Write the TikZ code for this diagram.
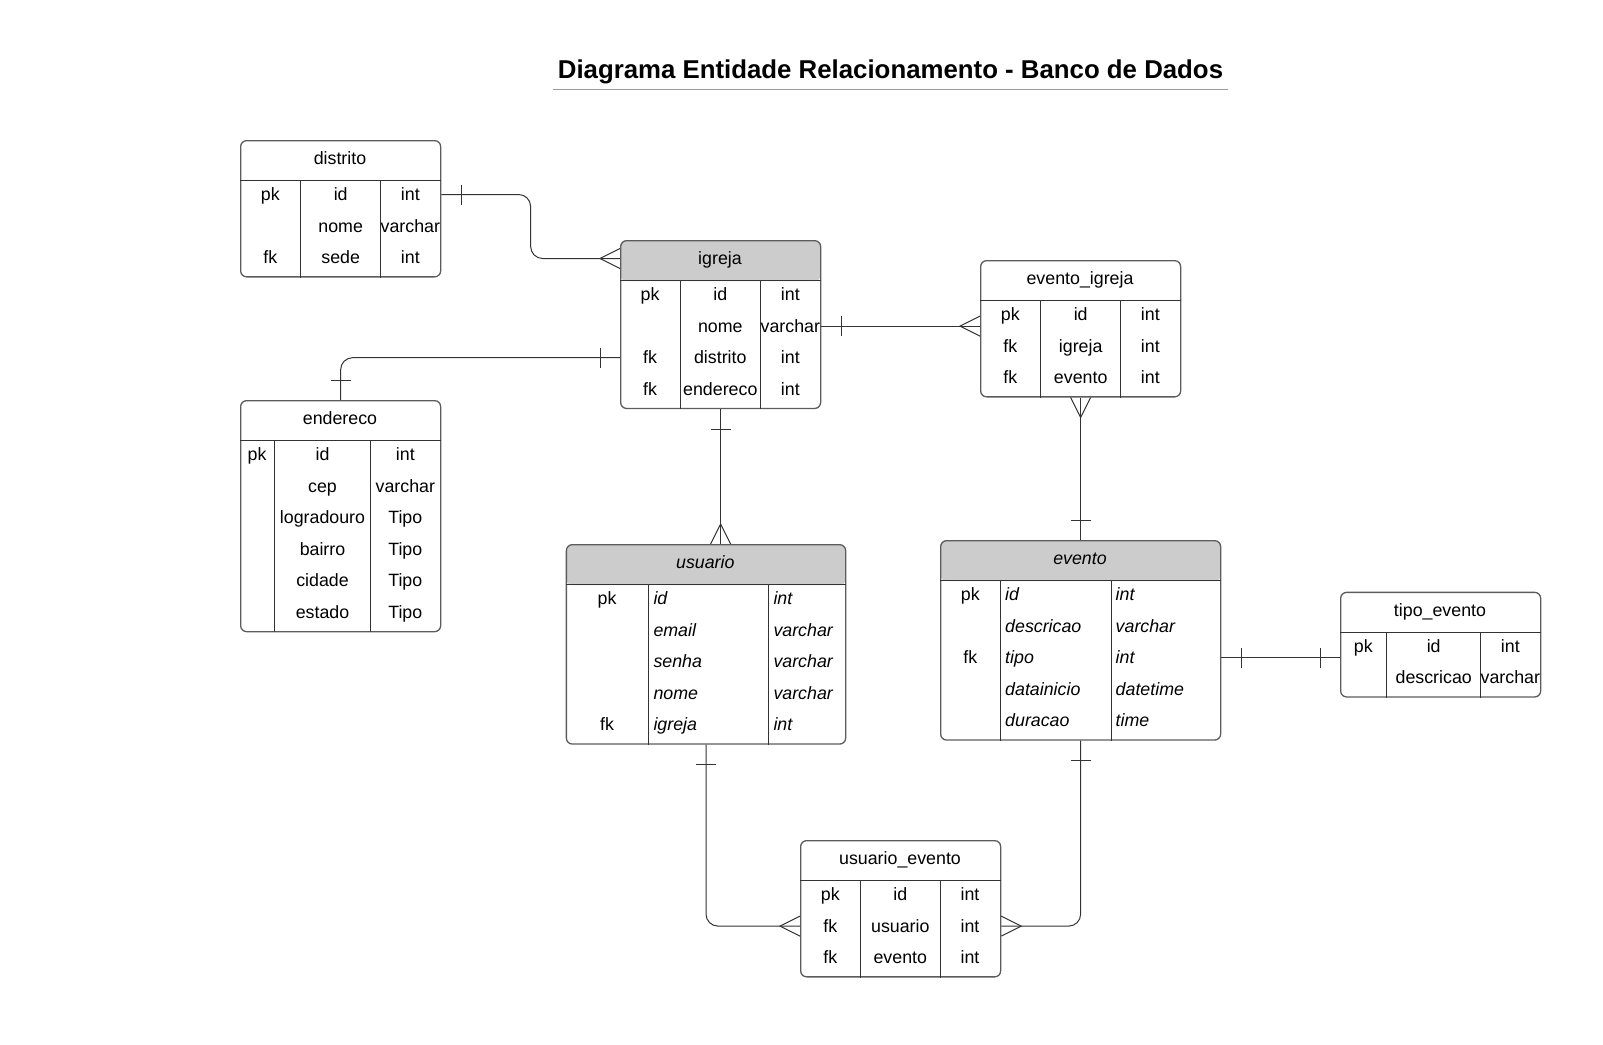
\documentclass[tikz,border=0pt]{standalone}
\usepackage{fontspec}
\setmainfont{Liberation Sans}
\usepackage{tikz}
\usetikzlibrary{positioning,calc,decorations.markings}

\definecolor{boxline}{HTML}{5C5C5C}
\definecolor{linkline}{HTML}{333333}
\definecolor{headfill}{HTML}{CCCCCC}
\definecolor{rulegray}{HTML}{9A9AA6}

\begin{document}
\begin{tikzpicture}[x=1pt, y=-1pt,
  every node/.style={font=\fontsize{17.8}{20}\selectfont, text=black},
  entity/.style={draw=boxline, line width=1.3pt, rounded corners=6pt, anchor=north west, inner sep=0pt},
  head/.style={path picture={\fill[headfill] (path picture bounding box.north west) rectangle ([yshift=-40.5pt]path picture bounding box.north east);}},
  cell/.style={inner sep=0pt, text height=16pt, text depth=4pt},
  ital/.style={cell, anchor=west, font=\fontsize{17.8}{20}\selectfont\itshape},
  rule/.style={draw=linkline, line width=1pt},
  link/.style={draw=linkline, line width=1pt, rounded corners=12pt},
  tick/.style={draw=linkline, line width=1pt, sharp corners},
  one start/.style={postaction={decorate, decoration={markings, mark=at position 20pt with {\draw[tick] (0pt,-10pt) -- (0pt,10pt);}}}},
  one end/.style={postaction={decorate, decoration={markings, mark=at position -20pt with {\draw[tick] (0pt,-10pt) -- (0pt,10pt);}}}},
  many start/.style={postaction={decorate, decoration={markings, mark=at position 20pt with {\draw[tick] (-20pt,-10pt) -- (0pt,0pt) -- (-20pt,10pt);}}}},
  many end/.style={postaction={decorate, decoration={markings, mark=at position -20pt with {\draw[tick] (20pt,-10pt) -- (0pt,0pt) -- (20pt,10pt);}}}}
]
\useasboundingbox (0,0) rectangle (1603,1044);

% Title
\node[inner sep=0pt, anchor=base, font=\fontsize{25.8}{30}\selectfont\bfseries] (title) at (890.5,78.7) {Diagrama Entidade Relacionamento - Banco de Dados};
\draw[draw=rulegray, line width=1.3pt] ($(title.base west)+(-5,10.5)$) -- ($(title.base east)+(5,10.5)$);

% distrito
\node[entity, minimum width=200pt, minimum height=136.2pt] (distrito) at (240,140) {};
\node[cell] (distrito-t) at ($(distrito.north west)+(100,18.5)$) {distrito};
\draw[rule] ([yshift=-40.5pt]distrito.north west) -- ([yshift=-40.5pt]distrito.north east);
\foreach \c in {60.7,140.7}
  \draw[rule] ([xshift=\c pt,yshift=-40.5pt]distrito.north west) -- ([xshift=\c pt]distrito.south west);
\foreach \k/\f/\t [count=\i] in {pk/id/int, /nome/varchar, fk/sede/int} {
  \node[cell] at ($(distrito.north west)+(30.3,{54.5+31.6*(\i-1)})$) {\k};
  \node[cell] (distrito-\i) at ($(distrito.north west)+(100.7,{54.5+31.6*(\i-1)})$) {\f};
  \node[cell] at ($(distrito.north west)+(170.3,{54.5+31.6*(\i-1)})$) {\t};
}

% igreja
\node[entity, head, minimum width=200pt, minimum height=167.8pt] (igreja) at (620,240) {};
\node[cell] (igreja-t) at ($(igreja.north west)+(100,18.5)$) {igreja};
\draw[rule] ([yshift=-40.5pt]igreja.north west) -- ([yshift=-40.5pt]igreja.north east);
\foreach \c in {60,140.7}
  \draw[rule] ([xshift=\c pt,yshift=-40.5pt]igreja.north west) -- ([xshift=\c pt]igreja.south west);
\foreach \k/\f/\t [count=\i] in {pk/id/int, /nome/varchar, fk/distrito/int, fk/endereco/int} {
  \node[cell] at ($(igreja.north west)+(30,{54.5+31.6*(\i-1)})$) {\k};
  \node[cell] (igreja-\i) at ($(igreja.north west)+(100.3,{54.5+31.6*(\i-1)})$) {\f};
  \node[cell] at ($(igreja.north west)+(170.3,{54.5+31.6*(\i-1)})$) {\t};
}

% endereco
\node[entity, minimum width=200pt, minimum height=231pt] (endereco) at (240,400) {};
\node[cell] (endereco-t) at ($(endereco.north west)+(100,18.5)$) {endereco};
\draw[rule] ([yshift=-40.5pt]endereco.north west) -- ([yshift=-40.5pt]endereco.north east);
\foreach \c in {34.3,130.7}
  \draw[rule] ([xshift=\c pt,yshift=-40.5pt]endereco.north west) -- ([xshift=\c pt]endereco.south west);
\foreach \k/\f/\t [count=\i] in {pk/id/int, /cep/varchar, /logradouro/Tipo, /bairro/Tipo, /cidade/Tipo, /estado/Tipo} {
  \node[cell] at ($(endereco.north west)+(17,{54.5+31.6*(\i-1)})$) {\k};
  \node[cell] (endereco-\i) at ($(endereco.north west)+(82.5,{54.5+31.6*(\i-1)})$) {\f};
  \node[cell] at ($(endereco.north west)+(165.3,{54.5+31.6*(\i-1)})$) {\t};
}

% evento_igreja
\node[entity, minimum width=200pt, minimum height=136.2pt] (evento_igreja) at (980,260) {};
\node[cell] (evento_igreja-t) at ($(evento_igreja.north west)+(100,18.5)$) {evento\_igreja};
\draw[rule] ([yshift=-40.5pt]evento_igreja.north west) -- ([yshift=-40.5pt]evento_igreja.north east);
\foreach \c in {60.7,140.7}
  \draw[rule] ([xshift=\c pt,yshift=-40.5pt]evento_igreja.north west) -- ([xshift=\c pt]evento_igreja.south west);
\foreach \k/\f/\t [count=\i] in {pk/id/int, fk/igreja/int, fk/evento/int} {
  \node[cell] at ($(evento_igreja.north west)+(30.3,{54.5+31.6*(\i-1)})$) {\k};
  \node[cell] (evento_igreja-\i) at ($(evento_igreja.north west)+(100.7,{54.5+31.6*(\i-1)})$) {\f};
  \node[cell] at ($(evento_igreja.north west)+(170.3,{54.5+31.6*(\i-1)})$) {\t};
}

% usuario
\node[entity, head, minimum width=279.3pt, minimum height=199.4pt] (usuario) at (565.7,544) {};
\node[cell, font=\fontsize{17.8}{20}\selectfont\itshape] (usuario-t) at ($(usuario.north west)+(139.6,18.5)$) {usuario};
\draw[rule] ([yshift=-40.5pt]usuario.north west) -- ([yshift=-40.5pt]usuario.north east);
\foreach \c in {82.6,202.6}
  \draw[rule] ([xshift=\c pt,yshift=-40.5pt]usuario.north west) -- ([xshift=\c pt]usuario.south west);
\foreach \k/\f/\t [count=\i] in {pk/id/int, /email/varchar, /senha/varchar, /nome/varchar, fk/igreja/int} {
  \node[cell] at ($(usuario.north west)+(41.3,{54.5+31.6*(\i-1)})$) {\k};
  \node[ital] (usuario-\i) at ($(usuario.north west)+(87.6,{54.5+31.6*(\i-1)})$) {\f};
  \node[ital] at ($(usuario.north west)+(207.6,{54.5+31.6*(\i-1)})$) {\t};
}

% evento
\node[entity, head, minimum width=280pt, minimum height=199.4pt] (evento) at (940,540) {};
\node[cell, font=\fontsize{17.8}{20}\selectfont\itshape] (evento-t) at ($(evento.north west)+(140,18.5)$) {evento};
\draw[rule] ([yshift=-40.5pt]evento.north west) -- ([yshift=-40.5pt]evento.north east);
\foreach \c in {60.5,171}
  \draw[rule] ([xshift=\c pt,yshift=-40.5pt]evento.north west) -- ([xshift=\c pt]evento.south west);
\foreach \k/\f/\t [count=\i] in {pk/id/int, /descricao/varchar, fk/tipo/int, /datainicio/datetime, /duracao/time} {
  \node[cell] at ($(evento.north west)+(30.3,{54.5+31.6*(\i-1)})$) {\k};
  \node[ital] (evento-\i) at ($(evento.north west)+(65,{54.5+31.6*(\i-1)})$) {\f};
  \node[ital] at ($(evento.north west)+(175.5,{54.5+31.6*(\i-1)})$) {\t};
}

% tipo_evento
\node[entity, minimum width=200pt, minimum height=104.6pt] (tipo_evento) at (1340,591.7) {};
\node[cell] (tipo_evento-t) at ($(tipo_evento.north west)+(100,18.5)$) {tipo\_evento};
\draw[rule] ([yshift=-40.5pt]tipo_evento.north west) -- ([yshift=-40.5pt]tipo_evento.north east);
\foreach \c in {46.7,140.7}
  \draw[rule] ([xshift=\c pt,yshift=-40.5pt]tipo_evento.north west) -- ([xshift=\c pt]tipo_evento.south west);
\foreach \k/\f/\t [count=\i] in {pk/id/int, /descricao/varchar} {
  \node[cell] at ($(tipo_evento.north west)+(23.3,{54.5+31.6*(\i-1)})$) {\k};
  \node[cell] (tipo_evento-\i) at ($(tipo_evento.north west)+(93.7,{54.5+31.6*(\i-1)})$) {\f};
  \node[cell] at ($(tipo_evento.north west)+(170.3,{54.5+31.6*(\i-1)})$) {\t};
}

% usuario_evento
\node[entity, minimum width=200pt, minimum height=136.2pt] (usuario_evento) at (800,840) {};
\node[cell] (usuario_evento-t) at ($(usuario_evento.north west)+(100,18.5)$) {usuario\_evento};
\draw[rule] ([yshift=-40.5pt]usuario_evento.north west) -- ([yshift=-40.5pt]usuario_evento.north east);
\foreach \c in {60.7,140}
  \draw[rule] ([xshift=\c pt,yshift=-40.5pt]usuario_evento.north west) -- ([xshift=\c pt]usuario_evento.south west);
\foreach \k/\f/\t [count=\i] in {pk/id/int, fk/usuario/int, fk/evento/int} {
  \node[cell] at ($(usuario_evento.north west)+(30.3,{54.5+31.6*(\i-1)})$) {\k};
  \node[cell] (usuario_evento-\i) at ($(usuario_evento.north west)+(100.3,{54.5+31.6*(\i-1)})$) {\f};
  \node[cell] at ($(usuario_evento.north west)+(170,{54.5+31.6*(\i-1)})$) {\t};
}

% Relationships
\coordinate (dj) at ($(distrito.east)!0.5!(igreja.west)$);
\draw[link, one start, many end] (distrito.east |- distrito-1) -| (dj |- igreja-t) -- (igreja.west |- igreja-t);
\draw[link, one start, many end] (igreja.east |- igreja-2) -- (evento_igreja.west |- igreja-2);
\draw[link, one start, one end] (endereco.north) |- (igreja.west |- igreja-3);
\draw[link, one start, many end] (igreja.south) -- (igreja.south |- usuario.north);
\draw[link, many start, one end] (evento_igreja.south) -- (evento_igreja.south |- evento.north);
\draw[link, one start, one end] (evento.east |- evento-3) -- (tipo_evento.west |- evento-3);
\draw[link, one start, many end] (usuario.south) |- (usuario_evento.west |- usuario_evento-2);
\draw[link, one start, many end] (evento.south) |- (usuario_evento.east |- usuario_evento-2);

\end{tikzpicture}
\end{document}
